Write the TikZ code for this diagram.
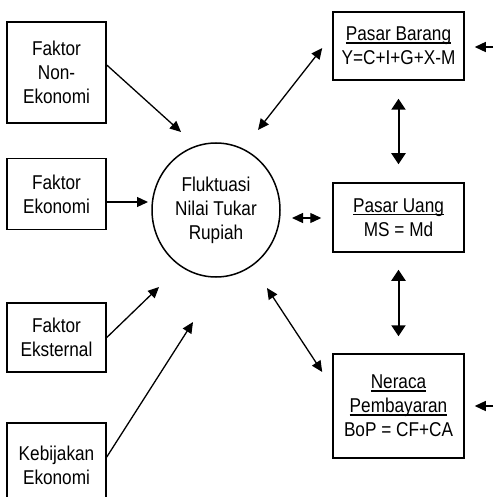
\documentclass[tikz,border=0pt]{standalone}
\usepackage{fontspec}
\setmainfont[FakeStretch=0.86]{Liberation Sans}
\usetikzlibrary{arrows.meta,shapes.geometric,calc}
\newcommand\myul[1]{\setbox0\hbox{#1}\rlap{\vrule width\wd0 height -1.6pt depth 3.2pt}\box0}
\begin{document}
\begin{tikzpicture}[x=1pt,y=-1pt,
  box/.style={draw,line width=1.5pt,inner sep=0pt,align=center,font=\fontsize{20}{24}\selectfont},
  arr/.style={line width=1.3pt,-{Triangle[length=11pt,width=10pt]}},
  darr/.style={line width=1.3pt,{Triangle[length=11pt,width=10pt]}-{Triangle[length=11pt,width=10pt]}},
  varr/.style={line width=2pt,{Triangle[length=11pt,width=14pt]}-{Triangle[length=11pt,width=14pt]}}]
\useasboundingbox (0,0) rectangle (493,497);
\clip (0,0) rectangle (493,497);
% left boxes
\node[box,minimum width=99pt,minimum height=101pt] (nonek) at (56.5,72.5) {Faktor\\Non-\\Ekonomi};
\node[box,minimum width=99pt,minimum height=71pt] (ekon) at (56.5,194) {\raisebox{-6pt}{\parbox{90pt}{\centering Faktor\\Ekonomi}}};
\node[box,minimum width=99pt,minimum height=69pt] (ekst) at (56.5,337.5) {Faktor\\Eksternal};
\node[box,minimum width=99pt,minimum height=84pt] (kebij) at (56.5,465) {Kebijakan\\Ekonomi};
% centre
\node[draw,ellipse,line width=1.5pt,minimum width=128pt,minimum height=134pt,inner sep=0pt,align=center,font=\fontsize{20}{24}\selectfont] (circ) at (216,210) {Fluktuasi\\Nilai Tukar\\Rupiah};
% right boxes
\node[box,minimum width=131pt,minimum height=68pt] (barang) at (398.5,46) {\myul{Pasar Barang}\\Y=C+I+G+X-M};
\node[box,minimum width=131pt,minimum height=69pt] (uang) at (398.5,217.5) {\myul{Pasar Uang}\\MS = Md};
\node[box,minimum width=131pt,minimum height=104pt] (neraca) at (398.5,406) {\myul{Neraca}\\\myul{Pembayaran}\\BoP = CF+CA};
% free ends on the right edge
\coordinate (rin1) at (493,47);
\coordinate (rin2) at (493,406);
% arrows into centre
\draw[arr] ([yshift=7.5pt]nonek.east) -- ($(circ.center)+(-35,-78)$);
\draw[arr] ([yshift=-8pt]ekon.east) -- ($(circ.center)+(-68,-8)$);
\draw[arr] (ekst.east) -- ($(circ.center)+(-57,77)$);
\draw[arr] ([yshift=8pt]kebij.east) -- ($(circ.center)+(-23,112)$);
% two-way arrows
\draw[darr] ($(circ.center)+(42,-80)$) -- ($(barang.west)+(-10,2)$);
\draw[darr] ($(circ.center)+(76,8)$) -- ($(uang.west)+(-11,0.5)$);
\draw[darr] ($(circ.center)+(51,78)$) -- ($(neraca.west)+(-10,-34)$);
\draw[varr] ($(barang.south)+(0,18)$) -- ($(uang.north)+(0,-18)$);
\draw[varr] ($(uang.south)+(0,17)$) -- ($(neraca.north)+(0,-17)$);
% arrows from outside
\draw[arr] (rin1) -- ($(barang.east)+(10,1)$);
\draw[arr] (rin2) -- ($(neraca.east)+(10,0)$);
\end{tikzpicture}
\end{document}
